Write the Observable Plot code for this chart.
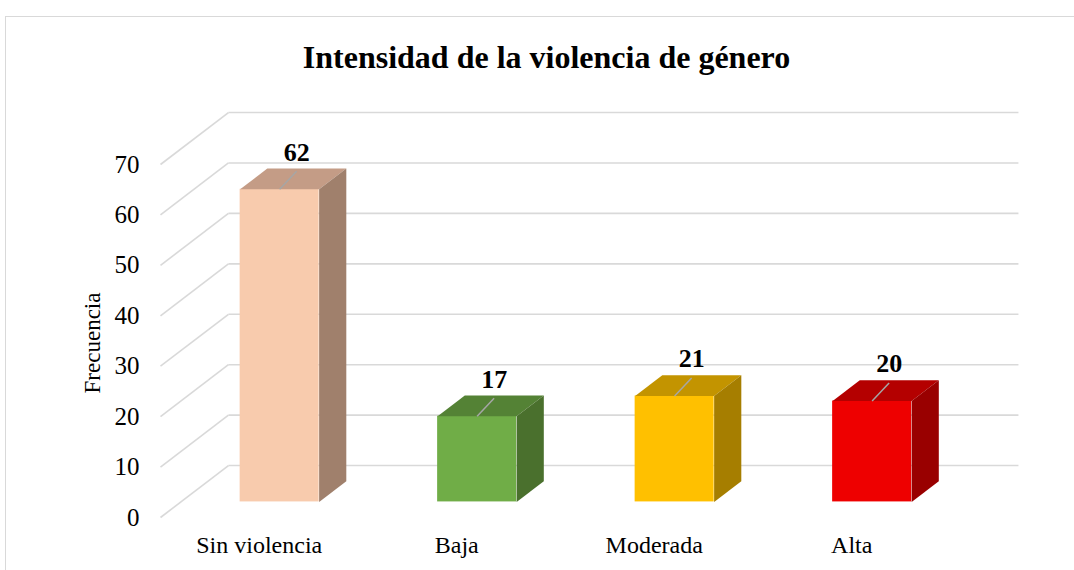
<!DOCTYPE html>
<html>
<head>
<meta charset="utf-8">
<script src="https://cdn.jsdelivr.net/npm/d3@7"></script>
<script src="https://cdn.jsdelivr.net/npm/@observablehq/plot@0.6"></script>
<style>
  body { margin: 0; background: #fff; }
  #wrap { position: relative; width: 1074px; height: 570px; overflow: hidden; font-family: "Liberation Serif", "Times New Roman", serif; }
  #border { position: absolute; left: 5px; top: 16px; width: 1100px; height: 600px; border: 1px solid #d9d9d9; }
  #title { position: absolute; top: 41px; left: 0; width: 1093px; text-align: center; font-weight: bold; font-size: 32px; line-height: 32px; color: #000; }
  #chart { position: absolute; left: 0; top: 0; }
</style>
</head>
<body>
<div id="wrap">
  <div id="border"></div>
  <div id="title"></div>
  <div id="chart"></div>
</div>
<script>
const titleText = "Intensidad de la violencia de género";
const yLabel = "Frecuencia";
const categories = ["Sin violencia", "Baja", "Moderada", "Alta"];
const values = [62, 17, 21, 20];
const frontColors = ["#F8CBAD", "#70AD47", "#FFC000", "#EE0000"];
const topColors = ["#C49C86", "#548235", "#C39400", "#B40000"];
const sideColors = ["#A0806C", "#4A702D", "#A67E00", "#990000"];
const yTicks = [0, 10, 20, 30, 40, 50, 60, 70];

document.getElementById("title").textContent = titleText;

// 3D layout (in scale units)
const dX = 0.344;   // depth offset along x (category units)
const dY = 10.3;    // depth offset along y (value units)
const fF = 0.3, fB = 0.7;   // bar front / back depth fraction
const b0 = 0.3, b1 = 0.7;   // bar extent within category band

const rows = categories.map((c, i) => ({c, i, v: values[i], front: frontColors[i], top: topColors[i], side: sideColors[i]}));

const polys = [];
rows.forEach(d => {
  const xl = d.i + b0, xr = d.i + b1;
  // top face
  [[xl + fF * dX, d.v + fF * dY], [xr + fF * dX, d.v + fF * dY], [xr + fB * dX, d.v + fB * dY], [xl + fB * dX, d.v + fB * dY]]
    .forEach(([x, y]) => polys.push({id: "t" + d.i, x, y, color: d.top}));
  // side face
  [[xr + fF * dX, fF * dY], [xr + fB * dX, fB * dY], [xr + fB * dX, d.v + fB * dY], [xr + fF * dX, d.v + fF * dY]]
    .forEach(([x, y]) => polys.push({id: "s" + d.i, x, y, color: d.side}));
});

const grid = "#d9d9d9";
const cx = d => d.i + 0.5 + fF * dX;
const cy = d => d.v + fF * dY;

const chart = Plot.plot({
  width: 1074,
  height: 570,
  marginLeft: 160,
  marginRight: 124,
  marginTop: 164,
  marginBottom: 53,
  x: {domain: [0, 4], axis: null},
  y: {domain: [0, 70], axis: null},
  color: {type: "identity"},
  style: {fontFamily: "'Liberation Serif', 'Times New Roman', serif", background: "transparent", overflow: "visible"},
  marks: [
    Plot.link(yTicks, {x1: dX, x2: 4 + dX, y1: d => d + dY, y2: d => d + dY, stroke: grid, strokeWidth: 1.6}),
    Plot.link(yTicks, {x1: 0, y1: d => d, x2: dX, y2: d => d + dY, stroke: grid, strokeWidth: 1.6}),
    Plot.rect(rows, {x1: d => d.i + b0 + fF * dX, x2: d => d.i + b1 + fF * dX, y1: fF * dY, y2: d => d.v + fF * dY, fill: "front"}),
    Plot.line(polys, {x: "x", y: "y", z: "id", fill: "color", stroke: "none", curve: "linear-closed"}),
    Plot.link(rows, {x1: cx, y1: cy, x2: d => cx(d) + 0.086, y2: d => cy(d) + 3.57, stroke: "#a6a6a6", strokeWidth: 1.5}),
    Plot.text(rows, {x: cx, y: cy, text: d => String(d.v), dx: 17, dy: -37, fontSize: 26, fontWeight: "bold", fill: "#000"}),
    Plot.text(yTicks, {x: 0, y: d => d, text: d => String(d), textAnchor: "end", dx: -21, fontSize: 25, fill: "#000"}),
    Plot.text(rows, {x: d => d.i + 0.5, y: 0, text: "c", dy: 28, fontSize: 24, fill: "#000"}),
    Plot.text([yLabel], {frameAnchor: "left", textAnchor: "middle", rotate: -90, dx: -68, dy: 2, fontSize: 23, fill: "#000"})
  ]
});
document.getElementById("chart").appendChild(chart);
</script>
</body>
</html>
